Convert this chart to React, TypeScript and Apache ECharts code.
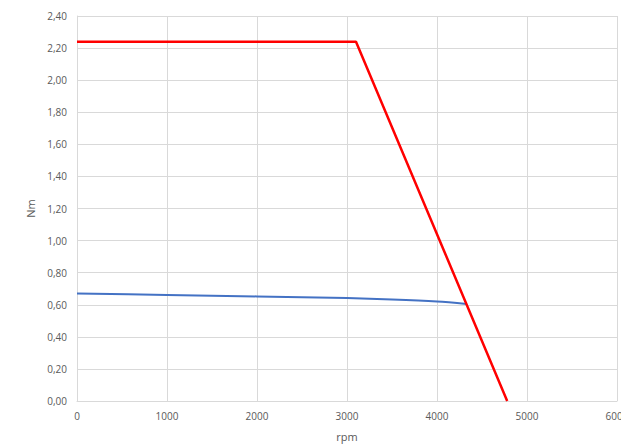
import React, { useEffect, useRef } from "react";
import * as echarts from "echarts";

const redRpm = [0, 3100, 4780];
const redNm = [2.24, 2.24, 0];
const blueRpm = [0, 1000, 2000, 3000, 3500, 4000, 4330];
const blueNm = [0.67, 0.661, 0.652, 0.642, 0.633, 0.62, 0.605];

export default function App() {
  const ref = useRef<HTMLDivElement>(null);
  useEffect(() => {
    const chart = echarts.init(ref.current!, null, { renderer: "svg" });
    const font = "Open Sans";
    chart.setOption({
      animation: false,
      grid: { left: 77, right: 4, top: 16, bottom: 47, outerBoundsMode: "none", containLabel: false },
      xAxis: {
        type: "value",
        min: 0,
        max: 6000,
        interval: 1000,
        name: "rpm",
        nameLocation: "middle",
        nameGap: 30,
        nameTextStyle: { color: "#595959", fontSize: 11, fontFamily: font },
        axisLine: { show: true, lineStyle: { color: "#d9d9d9" } },
        axisTick: { show: false },
        axisLabel: {
          color: "#595959",
          fontSize: 10,
          fontFamily: font,
          margin: 10,
          formatter: (v: number) => String(v),
        },
        splitLine: { show: true, lineStyle: { color: "#d9d9d9" } },
      },
      yAxis: {
        type: "value",
        min: 0,
        max: 2.4,
        interval: 0.2,
        name: "Nm",
        nameLocation: "middle",
        nameGap: 38,
        nameTextStyle: { color: "#595959", fontSize: 11, fontFamily: font },
        axisLine: { show: true, lineStyle: { color: "#d9d9d9" } },
        axisTick: { show: false },
        axisLabel: {
          color: "#595959",
          fontSize: 10,
          fontFamily: font,
          margin: 10,
          formatter: (v: number) => v.toFixed(2).replace(".", ","),
        },
        splitLine: { show: true, lineStyle: { color: "#d9d9d9" } },
      },
      series: [
        {
          type: "line",
          data: blueRpm.map((x, i) => [x, blueNm[i]]),
          smooth: 0.3,
          symbol: "none",
          lineStyle: { color: "#4472c4", width: 2 },
        },
        {
          type: "line",
          data: redRpm.map((x, i) => [x, redNm[i]]),
          symbol: "none",
          lineStyle: { color: "#ff0000", width: 2.5 },
        },
      ],
    });
    return () => chart.dispose();
  }, []);
  return <div ref={ref} style={{ width: 621, height: 448, position: "absolute", left: 0, top: 0, background: "#fff" }} />;
}
